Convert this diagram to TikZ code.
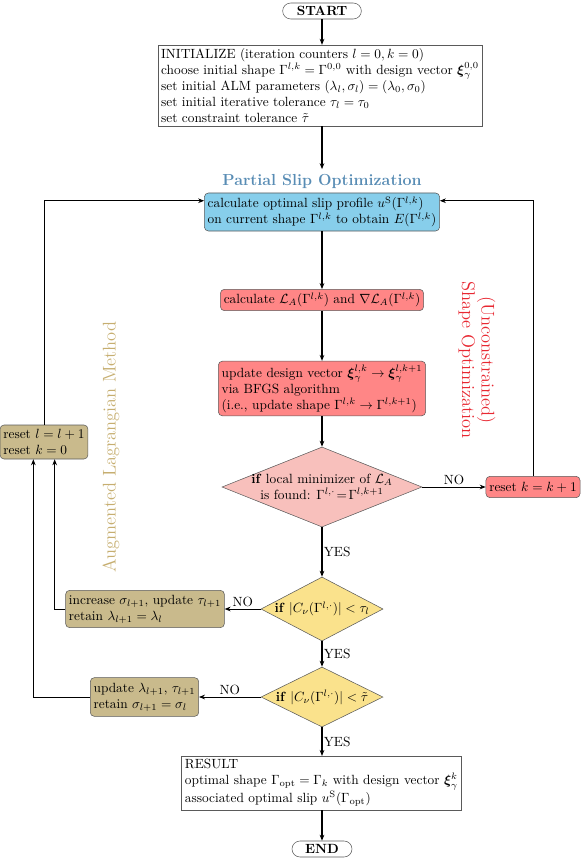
\documentclass[tikz,border=0pt]{standalone}
\usepackage{amsmath,amssymb}
\usetikzlibrary{shapes.geometric,arrows.meta}

\definecolor{boxgray}{RGB}{90,90,90}
\definecolor{slipfill}{RGB}{135,206,235}
\definecolor{sliptext}{RGB}{88,140,180}
\definecolor{shapefill}{RGB}{255,134,134}
\definecolor{shapetext}{RGB}{232,40,50}
\definecolor{decpink}{RGB}{248,192,188}
\definecolor{decyellow}{RGB}{250,226,140}
\definecolor{almfill}{RGB}{201,186,140}
\definecolor{almtext}{RGB}{198,174,112}

\tikzset{
  term/.style={draw=boxgray, rounded corners=6pt, minimum width=59pt, minimum height=12pt, inner sep=1pt},
  plainbox/.style={draw=boxgray, rectangle, inner sep=2.5pt, align=left},
  rbox/.style={plainbox, rounded corners=3pt},
  decision/.style={draw=boxgray, shape=diamond, inner sep=-10pt, align=center},
  looptitle/.style={font=\fontsize{13.8pt}{14.5pt}\selectfont, align=center},
  main/.style={-{Stealth[length=4.5pt,width=3.5pt]}, line width=0.9pt},
  side/.style={-{Stealth[length=4.5pt,width=3.5pt]}, line width=0.6pt},
}

\begin{document}
\begin{tikzpicture}[x=0.75pt,y=-0.75pt]
\useasboundingbox (0,0) rectangle (581,859);

% main column
\node[term] (start) at (322,11) {\textbf{START}};
\node[plainbox] (init) at (320,85.5) {INITIALIZE (iteration counters $l=0,k=0$)\\
 choose initial shape $\Gamma^{l,k}=\Gamma^{0,0}$ with design vector $\boldsymbol{\xi}_\gamma^{0,0}$\\
 set initial ALM parameters $(\lambda_l,\sigma_l)=(\lambda_0,\sigma_0)$\\
 set initial iterative tolerance $\tau_l=\tau_0$\\
 set constraint tolerance $\tilde{\tau}$};
\node[font=\large\bfseries,text=sliptext] (sliptitle) at (322,181) {Partial Slip Optimization};
\node[rbox,fill=slipfill,minimum height=28.5pt] (slip) at (322,212) {calculate optimal slip profile $u^{\mathrm{S}}(\Gamma^{l,k})$\\
 on current shape $\Gamma^{l,k}$ to obtain $E(\Gamma^{l,k})$};
\node[rbox,fill=shapefill,minimum height=15pt] (calcl) at (322,300) {calculate $\mathcal{L}_A(\Gamma^{l,k})$ and $\nabla\mathcal{L}_A(\Gamma^{l,k})$};
\node[rbox,fill=shapefill,minimum height=41pt] (upd) at (322,388.5) {update design vector $\boldsymbol{\xi}_\gamma^{l,k}\to\boldsymbol{\xi}_\gamma^{l,k+1}$\\
 via BFGS algorithm\\
 (i.e., update shape $\Gamma^{l,k}\to\Gamma^{l,k+1}$)};
\node[decision,aspect=2.5,fill=decpink,minimum width=150pt,minimum height=60pt] (dec1) at (322,487) {\textbf{if} local minimizer of $\mathcal{L}_A$\\
 is found: $\Gamma^{l,\cdot}\!=\!\Gamma^{l,k+1}$};
\node[decision,aspect=1.9,fill=decyellow,minimum width=91.5pt,minimum height=48pt] (dec2) at (322,609) {\textbf{if} $|C_\nu(\Gamma^{l,\cdot})|<\tau_l$};
\node[decision,aspect=1.9,fill=decyellow,minimum width=91.5pt,minimum height=45pt] (dec3) at (322,697) {\textbf{if} $|C_\nu(\Gamma^{l,\cdot})|<\tilde{\tau}$};
\node[plainbox,minimum height=39pt] (result) at (321.5,783) {RESULT\\
 optimal shape $\Gamma_{\mathrm{opt}}=\Gamma_k$ with design vector $\boldsymbol{\xi}_\gamma^k$\\
 associated optimal slip $u^{\mathrm{S}}(\Gamma_{\mathrm{opt}})$};
\node[term,minimum width=45pt] (end) at (322,849) {\textbf{END}};

% side boxes
\node[rbox,fill=shapefill,minimum height=16pt] (resetk) at (533,487) {reset $k=k+1$};
\node[rbox,fill=almfill,minimum height=28pt] (incr) at (145,609) {increase $\sigma_{l+1}$, update $\tau_{l+1}$\\
 retain $\lambda_{l+1}=\lambda_l$};
\node[rbox,fill=almfill,minimum height=29pt] (updl) at (144.5,697) {update $\lambda_{l+1}$, $\tau_{l+1}$\\
 retain $\sigma_{l+1}=\sigma_l$};
\node[rbox,fill=almfill,minimum height=25.5pt] (resetl) at (44,442) {reset $l=l+1$\\
 reset $k=0$};

% loop titles
\node[looptitle,text=shapetext,rotate=-90] (shapeopt) at (477,360) {(Unconstrained)\\Shape Optimization};
\node[looptitle,text=almtext,rotate=90] (alm) at (111,447) {Augmented Lagrangian Method};

% connectors
\draw[main] (start) -- (start |- init.north);
\draw[main] (init.south -| start) -- (sliptitle.north);
\draw[main] (slip) -- (calcl);
\draw[main] (calcl) -- (upd);
\draw[main] (upd) -- (dec1);
\draw[side] (dec1) -- node[above,inner sep=1.5pt] {NO} (resetk);
\draw[side] (resetk) |- ([yshift=-6pt]slip.north east);
\draw[main] (dec1) -- node[right,inner sep=1pt] {YES} (dec2);
\draw[side] (dec2) -- node[above,inner sep=1.5pt] {NO} (incr);
\draw[side] (incr.west) -| ([xshift=8pt]resetl.south);
\draw[main] (dec2) -- node[right,inner sep=1pt] {YES} (dec3);
\draw[side] (dec3) -- node[above,inner sep=1.5pt] {NO} (updl);
\draw[side] (updl.west) -| ([xshift=-8pt]resetl.south);
\draw[side] (resetl) |- ([yshift=-6pt]slip.north west);
\draw[main] (dec3) -- node[right,inner sep=1pt] {YES} (result.north -| dec3);
\draw[main] (result.south -| end) -- (end);
\end{tikzpicture}
\end{document}
